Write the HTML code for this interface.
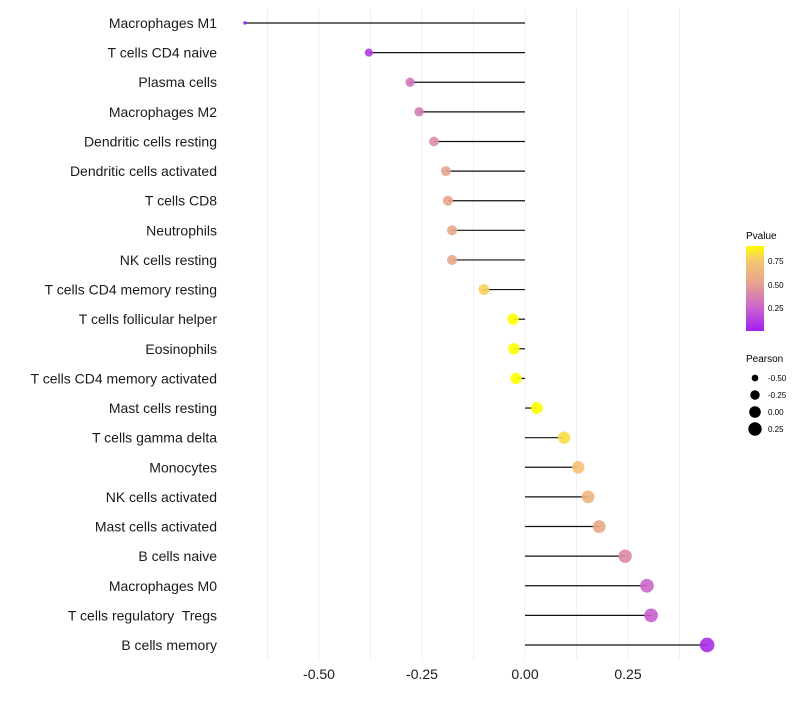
<!DOCTYPE html>
<html><head><meta charset="utf-8"><style>
body{margin:0;background:#fff;font-family:"Liberation Sans",sans-serif}
text{white-space:pre}
</style></head><body>
<svg id="chart" width="800" height="700" xmlns="http://www.w3.org/2000/svg" font-family="Liberation Sans, sans-serif">
<defs><linearGradient id="pg" x1="0" y1="1" x2="0" y2="0">
<stop offset="0" stop-color="#a020f0"/><stop offset="0.28" stop-color="#cc66cc"/><stop offset="0.55" stop-color="#e6a090"/><stop offset="0.83" stop-color="#f5c870"/><stop offset="1" stop-color="#ffff00"/>
</linearGradient></defs>
<g id="grid"></g><g id="marks"></g><g id="ylab"></g><g id="xlab"></g>
<g>
<text x="746" y="239" font-size="10">Pvalue</text>
<rect x="746" y="246" width="18" height="85" fill="url(#pg)"/>
<text x="768" y="264" font-size="8">0.75</text>
<text x="768" y="288" font-size="8">0.50</text>
<text x="768" y="311" font-size="8">0.25</text>
</g>
<g id="sleg">
<text x="746" y="362" font-size="10">Pearson</text>
</g>
</svg>
<script>
const categories=["Macrophages M1","T cells CD4 naive","Plasma cells","Macrophages M2","Dendritic cells resting","Dendritic cells activated","T cells CD8","Neutrophils","NK cells resting","T cells CD4 memory resting","T cells follicular helper","Eosinophils","T cells CD4 memory activated","Mast cells resting","T cells gamma delta","Monocytes","NK cells activated","Mast cells activated","B cells naive","Macrophages M0","T cells regulatory  Tregs","B cells memory"];
const pearson=[-0.680,-0.379,-0.279,-0.257,-0.221,-0.192,-0.187,-0.177,-0.177,-0.100,-0.029,-0.027,-0.022,0.029,0.095,0.129,0.153,0.180,0.243,0.296,0.306,0.442];
const pvalue=[0.0,0.1,0.3,0.33,0.4,0.48,0.5,0.52,0.52,0.75,0.92,0.92,0.92,0.92,0.78,0.68,0.6,0.52,0.38,0.25,0.23,0.05];
const xTicks=[-0.5,-0.25,0,0.25];
const xTickLabels=["-0.50","-0.25","0.00","0.25"];
const legendSizes=[-0.5,-0.25,0,0.25];
const legendSizeLabels=["-0.50","-0.25","0.00","0.25"];
const NS="http://www.w3.org/2000/svg";
const x=v=>525+v*412;
const y=i=>23+i*(622/21);
const vmin=Math.min(...pearson);
const r=v=>Math.sqrt(Math.max(2,3+45*(v-vmin)));
const stops=[[0,[160,32,240]],[0.25,[204,102,204]],[0.47,[230,160,144]],[0.72,[245,200,112]],[0.88,[255,255,0]]];
function col(p){if(p<=stops[0][0])return "rgb("+stops[0][1]+")";for(let k=1;k<stops.length;k++){if(p<=stops[k][0]){const a=stops[k-1],b=stops[k],t=(p-a[0])/(b[0]-a[0]);return "rgb("+a[1].map((c,j)=>Math.round(c+(b[1][j]-c)*t)).join(",")+")";}}return "rgb(255,255,0)";}
function mk(t,attrs,parent){const e=document.createElementNS(NS,t);for(const k in attrs)e.setAttribute(k,attrs[k]);document.getElementById(parent).appendChild(e);return e;}
for(let g=-0.625;g<=0.376;g+=0.125){const l=mk("line",{x1:x(g),x2:x(g),y1:8,y2:660,stroke:"#f0f0f0","stroke-width":1},"grid");

}
categories.forEach((c,i)=>{
const ln=mk("line",{x1:x(0),x2:x(pearson[i]),y1:y(i),y2:y(i),stroke:"#111","stroke-width":1.2},"marks");


const pt=mk("circle",{cx:x(pearson[i]),cy:y(i),r:r(pearson[i]),fill:col(pvalue[i]),"fill-opacity":0.9},"marks");


const t=mk("text",{x:217,y:y(i)+5,"text-anchor":"end","font-size":14,fill:"#1a1a1a"},"ylab");t.textContent=c;


});
xTicks.forEach((v,i)=>{const t=mk("text",{x:x(v),y:679,"text-anchor":"middle","font-size":14,fill:"#1a1a1a"},"xlab");t.textContent=xTickLabels[i];

});
legendSizes.forEach((v,i)=>{const cy=378+i*17;
const c=mk("circle",{cx:755,cy:cy,r:r(v),fill:"#000"},"sleg");


const t=mk("text",{x:768,y:cy+3,"font-size":8},"sleg");t.textContent=legendSizeLabels[i];

});
</script>
</body></html>
